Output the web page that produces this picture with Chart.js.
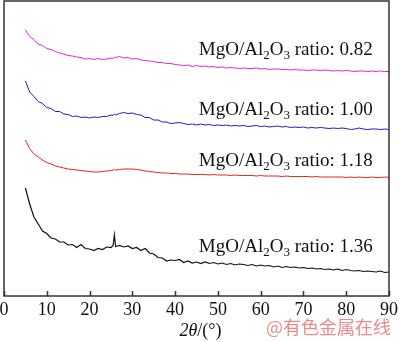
<!DOCTYPE html>
<html lang="en">
<head>
  <meta charset="UTF-8">
  <title>XRD patterns</title>
  <script src="https://cdn.jsdelivr.net/npm/chart.js"></script>
  <style>
    body { margin: 0; background: #fff; }
    canvas { display: block; }
  </style>
</head>
<body>
<canvas id="xrdChart" width="400" height="342"></canvas>

<script>
  // 2theta positions (degrees), extra points around the sharp peak near 26
  var twoTheta = [
    5, 6, 7, 8, 9, 10, 11, 12, 13, 14, 15, 16, 17, 18, 19, 20, 21, 22, 23, 24, 25,
    25.5, 25.8, 26.1,
    27, 28, 29, 30, 31, 32, 33, 34, 35, 36,
    37, 38, 39, 40, 41, 42, 43, 44, 45, 46,
    47, 48, 49, 50, 51, 52, 53, 54, 55, 56,
    57, 58, 59, 60, 61, 62, 63, 64, 65, 66,
    67, 68, 69, 70, 71, 72, 73, 74, 75, 76,
    77, 78, 79, 80, 81, 82, 83, 84, 85, 86,
    87, 88, 89, 90
  ];

  // stacked intensities (a.u., offset per sample)
  var ratio082 = [
    266, 259.5, 256.5, 252, 250.5, 247.5, 246.5, 244.5, 243, 242, 240.5, 240, 239, 238.5, 237, 237.5, 236.5, 237.5, 236.5, 237, 238,
    237.5, 239, 238.5,
    239.5, 238, 238.5, 237, 237.5, 236, 235.5, 235, 234.5, 233.5,
    233.5, 232.5, 232.5, 231.5, 231, 230.5, 231, 229.5, 230.5, 229.5,
    230, 229, 229.5, 228.5, 229, 228, 228.5, 228, 227.5, 228,
    227.5, 227.5, 228, 227, 227.5, 226.5, 227, 227, 226.5, 226.5,
    226, 226.5, 226, 226, 225.5, 226, 226, 225.5, 226, 225.5,
    225, 225.5, 225, 225.5, 225, 224.5, 225, 225, 224.5, 225,
    224.5, 225, 224.5, 224.5
  ];
  var ratio100 = [
    215, 204, 199.5, 194.5, 192.5, 188.5, 187.5, 184.5, 184.5, 182, 181.5, 179.5, 180, 178.5, 179, 178, 179, 178.5, 179.5, 179.5, 181,
    180.5, 182, 181,
    182.5, 183.5, 182.5, 183, 181.5, 181, 178.5, 178.5, 176, 176,
    174, 174, 172.5, 173, 173.5, 172.5, 171.5, 172, 171, 172,
    171, 171.5, 170.5, 171, 170.5, 171, 170, 170.5, 170, 170.5,
    169.5, 170, 170.5, 169.5, 170, 169, 169.5, 170, 169, 169.5,
    168.5, 169, 168.5, 169, 168, 168.5, 168, 168.5, 168, 167.5,
    168, 167.5, 168, 167.5, 166.5, 167, 168, 167, 166.5, 167,
    167, 166.5, 167, 166.5
  ];
  var ratio118 = [
    156, 147.5, 142, 139, 136, 133.5, 132, 130, 129, 128, 127, 126.5, 126, 125.5, 125, 124.5, 124, 124, 124.5, 125, 125.5,
    126, 126.5, 126,
    126.5, 127, 127, 127, 126.5, 126, 125, 124.5, 124, 123.5,
    123, 123, 122.5, 122.5, 122, 122, 122, 121.5, 121.5, 121.5,
    121.5, 121, 121.5, 121, 121, 121, 120.5, 121, 120.5, 120.5,
    120.5, 120.5, 120, 120.5, 120, 120, 120, 120, 119.5, 120,
    119.5, 119.5, 119.5, 119.5, 119.5, 119, 119.5, 119, 119, 119,
    119, 119, 119, 118.5, 119, 118.5, 119, 118.5, 118.5, 119,
    118.5, 118.5, 119, 118.5
  ];
  var ratio136 = [
    108, 92, 79, 72, 65, 62.5, 58, 57, 54, 54, 51, 51.5, 48.5, 51.5, 47.5, 47, 45.5, 47.5, 46.5, 49, 48.5,
    50.5, 61, 49.5,
    50.5, 49, 50, 47.5, 48.5, 45.5, 47.5, 43, 42, 38.5,
    38, 35, 36, 35.5, 36.5, 33.5, 35, 33, 34, 32.5,
    34, 32.5, 33.5, 32, 33, 31.5, 32.5, 31, 32, 31.5,
    30.5, 31.5, 30, 31, 30, 30.5, 29, 30, 28.5, 29.5,
    28.5, 29, 28, 28.5, 27.5, 28, 27, 27.5, 26.5, 27,
    26, 27, 25.5, 26.5, 25.5, 25, 25.5, 24.5, 25, 24.5,
    24, 25, 23.5, 24
  ];

  var xTicks = [0, 10, 20, 30, 40, 50, 60, 70, 80, 90];
  var ratioNames = ['0.82', '1.00', '1.18', '1.36'];
  var ratioLevels = [241, 181, 130, 44];   // label baselines, in intensity units
  var lineColors = ['#e024dc', '#1c1ccc', '#e02424', '#111111'];

  function pairs(ys) {
    return twoTheta.map(function (t, i) { return { x: t, y: ys[i] }; });
  }

  // frame, inward ticks, sample labels and axis title
  var decorations = {
    id: 'decorations',
    afterDraw: function (chart) {
      var ctx = chart.ctx;
      var area = chart.chartArea;
      var xs = chart.scales.x;
      var ys = chart.scales.y;
      ctx.save();

      ctx.strokeStyle = '#333';
      ctx.lineWidth = 1.5;
      ctx.strokeRect(area.left, area.top, area.right - area.left, area.bottom - area.top);
      xTicks.forEach(function (v) {
        var px = Math.round(xs.getPixelForValue(v)) + 0.5;
        ctx.beginPath();
        ctx.moveTo(px, area.bottom);
        ctx.lineTo(px, area.bottom - 5);
        ctx.stroke();
      });

      // "MgO/Al2O3 ratio: x" with subscripts, right aligned
      ctx.fillStyle = '#111';
      ctx.textBaseline = 'alphabetic';
      ctx.textAlign = 'left';
      var big = '19px "Liberation Serif", serif';
      var small = '13px "Liberation Serif", serif';
      var right = xs.getPixelForValue(86.2);
      ratioNames.forEach(function (r, i) {
        var parts = [
          ['MgO/Al', big, 0], ['2', small, 4], ['O', big, 0], ['3', small, 4], [' ratio: ' + r, big, 0]
        ];
        var w = 0;
        parts.forEach(function (p) { ctx.font = p[1]; w += ctx.measureText(p[0]).width; });
        var x = right - w;
        var y = ys.getPixelForValue(ratioLevels[i]);
        parts.forEach(function (p) {
          ctx.font = p[1];
          ctx.fillText(p[0], x, y + p[2]);
          x += ctx.measureText(p[0]).width;
        });
      });

      // axis title 2θ/(°)
      var tItalic = 'italic 18px "Liberation Serif", serif';
      var tUp = '18px "Liberation Serif", serif';
      ctx.font = tItalic;
      var w1 = ctx.measureText('2θ').width;
      ctx.font = tUp;
      var w2 = ctx.measureText('/(°)').width;
      var tx = (area.left + area.right) / 2 + 4 - (w1 + w2) / 2;
      ctx.font = tItalic;
      ctx.fillText('2θ', tx, 336);
      ctx.font = tUp;
      ctx.fillText('/(°)', tx + w1, 336);

      ctx.restore();
    }
  };

  var ctxXrd = document.getElementById('xrdChart').getContext('2d');
  var xrdChart = new Chart(ctxXrd, {
    type: 'line',
    data: {
      datasets: [ratio082, ratio100, ratio118, ratio136].map(function (ys, i) {
        return {
          label: 'MgO/Al2O3 ratio: ' + ratioNames[i],
          data: pairs(ys),
          borderColor: lineColors[i],
          borderWidth: i === 3 ? 1.2 : 1,
          pointRadius: 0,
          tension: 0,
          fill: false
        };
      })
    },
    options: {
      responsive: false,
      animation: false,
      devicePixelRatio: 1,
      layout: { padding: { left: 4, right: 11, top: 1, bottom: 0 } },
      plugins: {
        legend: { display: false },
        tooltip: { enabled: false }
      },
      scales: {
        x: {
          type: 'linear',
          min: 0,
          max: 90,
          afterBuildTicks: function (axis) {
            axis.ticks = xTicks.map(function (v) { return { value: v }; });
          },
          // fixed axis band so the plot frame sits at 4..389 x 1..296
          afterFit: function (axis) {
            axis.height = 46;
            axis.paddingLeft = 0;
            axis.paddingRight = 0;
          },
          grid: { display: false, drawTicks: false },
          border: { display: false },
          ticks: {
            padding: 3,
            color: '#111',
            maxRotation: 0,
            font: { family: '"Liberation Serif", serif', size: 18 }
          }
        },
        y: {
          display: false,
          min: 0,
          max: 295
        }
      }
    },
    plugins: [decorations, {
      id: 'mark',
      afterDraw: function (chart) {
        var ctx = chart.ctx;
        ctx.save();
        ctx.font = '18px "Noto Sans CJK SC", sans-serif';
        ctx.fillStyle = 'rgba(232, 118, 118, 0.85)';
        ctx.textAlign = 'right';
        ctx.textBaseline = 'middle';
        ctx.fillText('@有色金属在线', 391, 327);
        ctx.restore();
      }
    }]
  });
</script>
</body>
</html>
